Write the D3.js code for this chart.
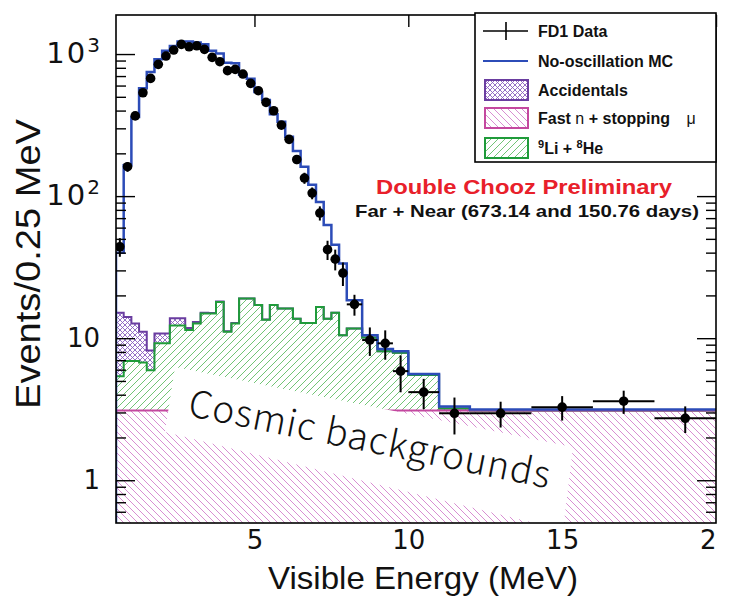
<!DOCTYPE html>
<html>
<head>
<meta charset="utf-8">
<script src="https://cdn.jsdelivr.net/npm/d3@7"></script>
<style>
  body { margin: 0; background: #fff; }
  svg { display: block; }
</style>
</head>
<body>
<svg width="731" height="599"></svg>
<script>
// bin edges in MeV: 0.25 MeV bins to 8, 0.5 MeV to 10, then 1 and 2 MeV
var binEdges = [0.5, 0.75, 1, 1.25, 1.5, 1.75, 2, 2.25, 2.5, 2.75, 3, 3.25, 3.5, 3.75, 4, 4.25,
  4.5, 4.75, 5, 5.25, 5.5, 5.75, 6, 6.25, 6.5, 6.75, 7, 7.25, 7.5, 7.75, 8,
  8.5, 9, 9.5, 10, 11, 12, 14, 16, 18, 20]

// FD1 data, events / 0.25 MeV
var dataCounts = [44, 161, 367, 534, 674, 846, 968, 1067, 1170, 1125,
  1143, 1079, 948, 883, 764, 780, 723, 622, 552, 457,
  399, 316, 251, 181, 134, 105, 76, 42, 36, 28.7,
  17.3, 9.7, 9.2, 5.86, 4.17, 2.96, 2.96, 3.27, 3.6, 2.73]
var dataErr = [6.6, 12.7, 19, 23, 26, 29, 31, 33, 34, 34,
  34, 33, 31, 30, 28, 28, 27, 25, 23, 21,
  20, 18, 16, 13, 12, 10, 8.7, 6.5, 6, 5.4,
  2.9, 2.2, 2.15, 1.7, 1.0, 0.86, 0.61, 0.64, 0.67, 0.58]

// no-oscillation MC (total)
var mcNoOsc = [40, 165, 360, 574, 748, 920, 1053, 1140, 1225, 1225,
  1207, 1174, 1053, 1010, 870, 863, 716, 670, 540, 475,
  377, 334, 262, 208, 161, 120, 91, 62.6, 45.4, 33.5,
  18.5, 10.5, 8.4, 8.1, 5.6, 3.3, 3.15, 3.15, 3.15, 3.15]

// background components (stacked: fast n, then 9Li+8He, then accidentals)
var fastN = [3.1, 3.1, 3.1, 3.1, 3.1, 3.1, 3.1, 3.1, 3.1, 3.1,
  3.1, 3.1, 3.1, 3.1, 3.1, 3.1, 3.1, 3.1, 3.1, 3.1,
  3.1, 3.1, 3.1, 3.1, 3.1, 3.1, 3.1, 3.1, 3.1, 3.1,
  3.1, 3.1, 3.1, 3.1, 3.1, 3.1, 3.1, 3.1, 3.1, 3.1]
var liHe = [2.3, 3.8, 3.8, 3.65, 2.85, 6.1, 6.1, 9.2, 9.2, 8.3,
  9.6, 11.8, 11.8, 14.9, 8.0, 9.6, 15.9, 15.9, 14.0, 10.4,
  14.0, 13.1, 13.1, 10.6, 9.7, 9.7, 13.5, 10.6, 12.0, 7.4,
  8.6, 7.0, 5.0, 4.8, 2.4, 0.1, 0, 0, 0, 0]
var accidentals = [9.7, 7.2, 5.8, 4.35, 2.25, 1.6, 1.6, 1.5, 1.5, 0.4,
  0.3, 0.2, 0.15, 0.1, 0.1, 0.1, 0.05, 0.05, 0.05, 0.05,
  0, 0, 0, 0, 0, 0, 0, 0, 0, 0,
  0, 0, 0, 0, 0, 0, 0, 0, 0, 0]

var xTicks = [5, 10, 15, 20]
var yMajor = [1, 10, 100, 1000]
var yMinor = [0.6, 0.7, 0.8, 0.9, 2, 3, 4, 5, 6, 7, 8, 9, 20, 30, 40, 50, 60, 70, 80, 90,
  200, 300, 400, 500, 600, 700, 800, 900]

var colBlue = '#2c4cb8'
var colGreen = '#1f9b3a'
var colGreenHatch = '#72c476'
var colPurple = '#6a3da0'
var colPurpleHatch = '#8a60c0'
var colPink = '#c4489f'
var colPinkHatch = '#d88ed2'

var svg = d3.select('svg')
var plot = {left: 116, right: 716, top: 15, bottom: 523}

var x = d3.scaleLinear().domain([0.5, 20]).range([plot.left, plot.right])
var y = d3.scaleLog().domain([0.5, 1883]).range([plot.bottom, plot.top])

var defs = svg.append('defs')
defs.append('clipPath').attr('id', 'plotClip')
  .append('rect').attr('x', plot.left).attr('y', plot.top)
  .attr('width', plot.right - plot.left).attr('height', plot.bottom - plot.top)
// the reference is cropped right after the "2" of the last x label
defs.append('clipPath').attr('id', 'labelClip')
  .append('rect').attr('x', 0).attr('y', 0).attr('width', 716).attr('height', 599)

var hatch = function(id, size, d, color, w) {
  defs.append('pattern').attr('id', id)
    .attr('patternUnits', 'userSpaceOnUse')
    .attr('width', size).attr('height', size)
    .append('path').attr('d', d)
    .attr('stroke', color).attr('stroke-width', w).attr('fill', 'none')
}
hatch('hPink', 7, 'M0,0L7,7M-2,5L2,9M5,-2L9,2', colPinkHatch, 1)
hatch('hGreen', 7, 'M0,7L7,0M-2,2L2,-2M5,9L9,5', colGreenHatch, 1)
hatch('hPurple', 5, 'M0,0L5,5M0,5L5,0', colPurpleHatch, 0.9)

// stacked tops
var pinkTop = fastN.map(function(v) { return v })
var greenTop = fastN.map(function(v, i) { return v + liHe[i] })
var purpleTop = greenTop.map(function(v, i) { return v + accidentals[i] })

var line = d3.line()

var stepPoints = function(vals) {
  var pts = []
  vals.forEach(function(v, i) {
    pts.push([x(binEdges[i]), y(v)])
    pts.push([x(binEdges[i + 1]), y(v)])
  })
  return pts
}
var band = function(lo, hi) {
  var top = stepPoints(hi)
  var bot = lo ? stepPoints(lo).reverse()
    : [[x(binEdges[binEdges.length - 1]), plot.bottom], [x(binEdges[0]), plot.bottom]]
  return line(top.concat(bot)) + 'Z'
}
var outline = function(vals) {
  var pts = [[x(binEdges[0]), plot.bottom]].concat(stepPoints(vals))
  return line(pts)
}

var g = svg.append('g').attr('clip-path', 'url(#plotClip)')

g.append('path').attr('d', band(null, pinkTop)).attr('fill', 'url(#hPink)')
g.append('path').attr('d', band(pinkTop, greenTop)).attr('fill', 'url(#hGreen)')
g.append('path').attr('d', band(greenTop, purpleTop)).attr('fill', 'url(#hPurple)')

g.append('path').attr('d', outline(purpleTop)).attr('fill', 'none')
  .attr('stroke', colPurple).attr('stroke-width', 2)
g.append('path').attr('d', outline(greenTop)).attr('fill', 'none')
  .attr('stroke', colGreen).attr('stroke-width', 2)
g.append('path').attr('d', outline(pinkTop)).attr('fill', 'none')
  .attr('stroke', colPink).attr('stroke-width', 2)

// "Cosmic backgrounds" label box (annotation)
svg.append('polygon')
  .attr('points', '175,367 573,447 563,530 165,432')
  .attr('fill', '#fff')
  .attr('clip-path', 'url(#plotClip)')

g.append('path').attr('d', outline(mcNoOsc)).attr('fill', 'none')
  .attr('stroke', colBlue).attr('stroke-width', 2.5)

// data points
var pts = svg.append('g').attr('clip-path', 'url(#plotClip)')
dataCounts.forEach(function(v, i) {
  var lo = binEdges[i], hi = binEdges[i + 1]
  var cx = x((lo + hi) / 2)
  pts.append('line')
    .attr('x1', x(lo)).attr('x2', x(hi)).attr('y1', y(v)).attr('y2', y(v))
    .attr('stroke', '#000').attr('stroke-width', 2)
  pts.append('line')
    .attr('x1', cx).attr('x2', cx)
    .attr('y1', y(v + dataErr[i])).attr('y2', y(Math.max(v - dataErr[i], 0.5)))
    .attr('stroke', '#000').attr('stroke-width', 2)
  pts.append('circle').attr('cx', cx).attr('cy', y(v)).attr('r', 4.8).attr('fill', '#000')
})

svg.append('text')
  .attr('x', 369).attr('y', 442)
  .attr('transform', 'rotate(11.4 369 442)')
  .attr('text-anchor', 'middle').attr('dominant-baseline', 'middle')
  .attr('font-family', '"Noto Sans CJK JP", "Noto Sans", sans-serif')
  .attr('font-weight', 300)
  .attr('font-size', 37)
  .attr('textLength', 368).attr('lengthAdjust', 'spacing')
  .attr('fill', '#111')
  .text('Cosmic backgrounds')

// axes
var styleAxis = function(sel) {
  sel.select('.domain').remove()
  sel.selectAll('.tick line').attr('stroke', '#000').attr('stroke-width', 1.4)
  sel.attr('font-family', '"DejaVu Sans", sans-serif').attr('font-size', 26)
  sel.selectAll('.tick text').attr('fill', '#111')
}

svg.append('g')
  .attr('transform', 'translate(0,' + plot.bottom + ')')
  .attr('clip-path', 'url(#labelClip)')
  .call(d3.axisBottom(x).tickValues(xTicks).tickSizeInner(-12).tickSizeOuter(0).tickPadding(8))
  .call(styleAxis)
svg.append('g')
  .attr('transform', 'translate(0,' + plot.top + ')')
  .call(d3.axisTop(x).tickValues(xTicks).tickSizeInner(-12).tickSizeOuter(0).tickFormat(''))
  .call(styleAxis)

var yLeft = svg.append('g')
  .attr('transform', 'translate(' + plot.left + ',0)')
  .call(d3.axisLeft(y).tickValues(yMajor).tickSizeInner(-19).tickSizeOuter(0).tickPadding(16))
  .call(styleAxis)
yLeft.selectAll('.tick text').each(function(d) {
  var t = d3.select(this).text(null)
  var e = Math.round(Math.log10(d))
  if (e >= 2) {
    t.append('tspan').attr('font-size', 29).attr('letter-spacing', 2).text('10')
    t.append('tspan').attr('dy', '-0.55em').attr('font-size', 20).text(e)
  } else {
    t.text(d)
  }
})
svg.append('g')
  .attr('transform', 'translate(' + plot.left + ',0)')
  .call(d3.axisLeft(y).tickValues(yMinor).tickSizeInner(-10).tickSizeOuter(0).tickFormat(''))
  .call(styleAxis)
svg.append('g')
  .attr('transform', 'translate(' + plot.right + ',0)')
  .call(d3.axisRight(y).tickValues(yMajor).tickSizeInner(-19).tickSizeOuter(0).tickFormat(''))
  .call(styleAxis)
svg.append('g')
  .attr('transform', 'translate(' + plot.right + ',0)')
  .call(d3.axisRight(y).tickValues(yMinor).tickSizeInner(-10).tickSizeOuter(0).tickFormat(''))
  .call(styleAxis)

// frame
svg.append('rect')
  .attr('x', plot.left).attr('y', plot.top)
  .attr('width', plot.right - plot.left).attr('height', plot.bottom - plot.top)
  .attr('fill', 'none').attr('stroke', '#000').attr('stroke-width', 1.6)

// axis titles
svg.append('text')
  .attr('x', 423).attr('y', 589)
  .attr('text-anchor', 'middle')
  .attr('font-family', '"Liberation Sans", Arial, sans-serif')
  .attr('font-size', 32)
  .attr('textLength', 310).attr('lengthAdjust', 'spacingAndGlyphs')
  .attr('fill', '#111')
  .text('Visible Energy (MeV)')
svg.append('text')
  .attr('transform', 'translate(40,264) rotate(-90)')
  .attr('text-anchor', 'middle')
  .attr('font-family', '"Liberation Sans", Arial, sans-serif')
  .attr('font-size', 35)
  .attr('textLength', 290).attr('lengthAdjust', 'spacingAndGlyphs')
  .attr('fill', '#111')
  .text('Events/0.25 MeV')

// legend
var leg = svg.append('g')
leg.append('rect').attr('x', 475).attr('y', 13).attr('width', 241).attr('height', 149)
  .attr('fill', '#fff').attr('stroke', '#000').attr('stroke-width', 1.6)

var legY = [31, 61, 90, 118, 148]
var legFont = '"Liberation Sans", Arial, sans-serif'
leg.append('line').attr('x1', 483).attr('x2', 528).attr('y1', legY[0]).attr('y2', legY[0])
  .attr('stroke', '#000').attr('stroke-width', 1.6)
leg.append('line').attr('x1', 506).attr('x2', 506).attr('y1', legY[0] - 9).attr('y2', legY[0] + 9)
  .attr('stroke', '#000').attr('stroke-width', 1.6)
leg.append('line').attr('x1', 483).attr('x2', 528).attr('y1', legY[1]).attr('y2', legY[1])
  .attr('stroke', colBlue).attr('stroke-width', 2.2)
var legBoxes = [
  {y: legY[2], fill: 'url(#hPurple)', stroke: colPurple},
  {y: legY[3], fill: 'url(#hPink)', stroke: colPink},
  {y: legY[4], fill: 'url(#hGreen)', stroke: colGreen}
]
legBoxes.forEach(function(b) {
  leg.append('rect').attr('x', 485).attr('y', b.y - 10).attr('width', 43).attr('height', 20)
    .attr('fill', b.fill).attr('stroke', b.stroke).attr('stroke-width', 2)
})

var legText = function(yy) {
  return leg.append('text').attr('x', 538).attr('y', yy + 6)
    .attr('font-family', legFont).attr('font-size', 16).attr('font-weight', 'bold')
    .attr('fill', '#111')
}
legText(legY[0]).text('FD1 Data')
legText(legY[1]).text('No-oscillation MC')
legText(legY[2]).text('Accidentals')
var t4 = legText(legY[3])
t4.append('tspan').text('Fast ')
t4.append('tspan').attr('font-weight', 'normal').text('n')
t4.append('tspan').text(' + stopping ')
t4.append('tspan').attr('font-weight', 'normal').attr('dx', 12).text('\u03bc')
var t5 = legText(legY[4])
t5.append('tspan').attr('font-size', 11).attr('dy', -6).text('9')
t5.append('tspan').attr('dy', 6).text('Li + ')
t5.append('tspan').attr('font-size', 11).attr('dy', -6).text('8')
t5.append('tspan').attr('dy', 6).text('He')

// annotations
svg.append('text')
  .attr('x', 524).attr('y', 194)
  .attr('text-anchor', 'middle')
  .attr('font-family', legFont).attr('font-size', 20).attr('font-weight', 'bold')
  .attr('textLength', 296).attr('lengthAdjust', 'spacingAndGlyphs')
  .attr('fill', '#e8202a')
  .text('Double Chooz Preliminary')
svg.append('text')
  .attr('x', 527).attr('y', 217)
  .attr('text-anchor', 'middle')
  .attr('font-family', legFont).attr('font-size', 17).attr('font-weight', 'bold')
  .attr('textLength', 344).attr('lengthAdjust', 'spacingAndGlyphs')
  .attr('fill', '#111')
  .text('Far + Near (673.14 and 150.76 days)')
</script>
</body>
</html>
